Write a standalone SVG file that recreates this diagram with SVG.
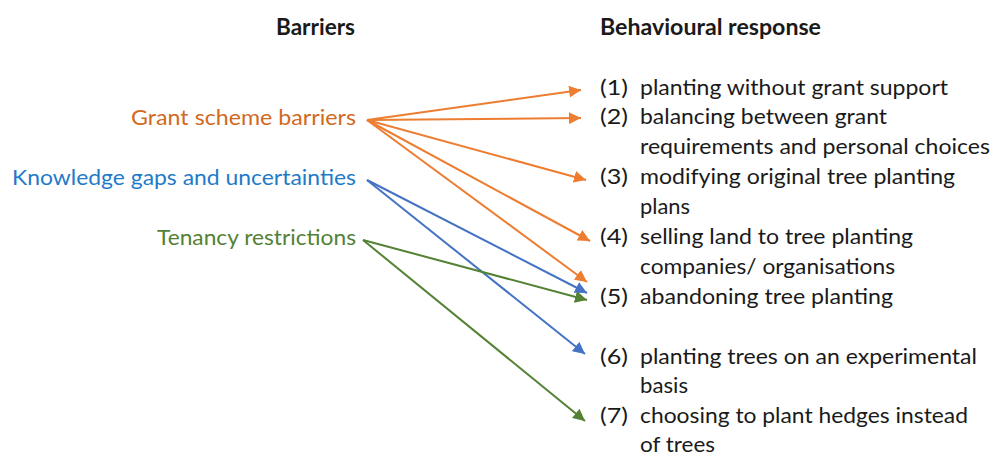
<svg xmlns="http://www.w3.org/2000/svg" width="994" height="457" viewBox="0 0 994 457">
  <style>
    text { font-family: Lato, "Open Sans", "Liberation Sans", sans-serif; font-size: 22px; fill: #1a1a1a; }
    .head { font-weight: bold; }
    .barrier { text-anchor: end; }
    .orange { fill: #D2691E; }
    .blue { fill: #1F7BC8; }
    .green { fill: #538135; }
    .edge { fill: none; stroke-width: 2; }
    .e-orange { stroke: #ED7D31; }
    .e-blue { stroke: #4472C4; }
    .e-green { stroke: #548235; }
  </style>
  <defs>
    <marker id="ah-orange" viewBox="0 0 10 10" refX="10" refY="5" markerWidth="6" markerHeight="6" markerUnits="strokeWidth" orient="auto">
      <path d="M0,0 L10,5 L0,10 Z" fill="#ED7D31"/>
    </marker>
    <marker id="ah-blue" viewBox="0 0 10 10" refX="10" refY="5" markerWidth="6" markerHeight="6" markerUnits="strokeWidth" orient="auto">
      <path d="M0,0 L10,5 L0,10 Z" fill="#4472C4"/>
    </marker>
    <marker id="ah-green" viewBox="0 0 10 10" refX="10" refY="5" markerWidth="6" markerHeight="6" markerUnits="strokeWidth" orient="auto">
      <path d="M0,0 L10,5 L0,10 Z" fill="#548235"/>
    </marker>
  </defs>

  <rect width="994" height="457" fill="#ffffff"/>

  <!-- column headings -->
  <g id="heading-barriers">
    <text class="head" x="276" y="35" textLength="79" lengthAdjust="spacingAndGlyphs">Barriers</text>
  </g>
  <g id="heading-response">
    <text class="head" x="600" y="35" textLength="221" lengthAdjust="spacingAndGlyphs">Behavioural response</text>
  </g>

  <!-- barriers -->
  <g id="barrier-grant">
    <text class="barrier orange" x="356" y="125" textLength="225" lengthAdjust="spacingAndGlyphs">Grant scheme barriers</text>
  </g>
  <g id="barrier-knowledge">
    <text class="barrier blue" x="356" y="185" textLength="344" lengthAdjust="spacingAndGlyphs">Knowledge gaps and uncertainties</text>
  </g>
  <g id="barrier-tenancy">
    <text class="barrier green" x="356" y="245" textLength="199" lengthAdjust="spacingAndGlyphs">Tenancy restrictions</text>
  </g>

  <!-- behavioural responses -->
  <g id="response-1">
    <text x="600" y="95" textLength="28" lengthAdjust="spacingAndGlyphs">(1)</text>
    <text x="640" y="95" textLength="308" lengthAdjust="spacingAndGlyphs">planting without grant support</text>
  </g>
  <g id="response-2">
    <text x="600" y="124" textLength="28" lengthAdjust="spacingAndGlyphs">(2)</text>
    <text x="640" y="124" textLength="247" lengthAdjust="spacingAndGlyphs">balancing between grant</text>
    <text x="640" y="154" textLength="350" lengthAdjust="spacingAndGlyphs">requirements and personal choices</text>
  </g>
  <g id="response-3">
    <text x="600" y="184" textLength="28" lengthAdjust="spacingAndGlyphs">(3)</text>
    <text x="640" y="184" textLength="315" lengthAdjust="spacingAndGlyphs">modifying original tree planting</text>
    <text x="640" y="214" textLength="50" lengthAdjust="spacingAndGlyphs">plans</text>
  </g>
  <g id="response-4">
    <text x="600" y="244" textLength="28" lengthAdjust="spacingAndGlyphs">(4)</text>
    <text x="640" y="244" textLength="273" lengthAdjust="spacingAndGlyphs">selling land to tree planting</text>
    <text x="640" y="274" textLength="255" lengthAdjust="spacingAndGlyphs">companies/ organisations</text>
  </g>
  <g id="response-5">
    <text x="600" y="304" textLength="28" lengthAdjust="spacingAndGlyphs">(5)</text>
    <text x="640" y="304" textLength="253" lengthAdjust="spacingAndGlyphs">abandoning tree planting</text>
  </g>
  <g id="response-6">
    <text x="600" y="364" textLength="28" lengthAdjust="spacingAndGlyphs">(6)</text>
    <text x="640" y="364" textLength="337" lengthAdjust="spacingAndGlyphs">planting trees on an experimental</text>
    <text x="640" y="393" textLength="48" lengthAdjust="spacingAndGlyphs">basis</text>
  </g>
  <g id="response-7">
    <text x="600" y="423" textLength="28" lengthAdjust="spacingAndGlyphs">(7)</text>
    <text x="640" y="423" textLength="328" lengthAdjust="spacingAndGlyphs">choosing to plant hedges instead</text>
    <text x="640" y="452" textLength="75" lengthAdjust="spacingAndGlyphs">of trees</text>
  </g>

  <!-- connectors -->
  <g id="connectors">
    <line class="edge e-orange" x1="367" y1="120" x2="581" y2="90" marker-end="url(#ah-orange)"/>
    <line class="edge e-orange" x1="367" y1="120" x2="581" y2="118" marker-end="url(#ah-orange)"/>
    <line class="edge e-orange" x1="367" y1="120" x2="586" y2="180" marker-end="url(#ah-orange)"/>
    <line class="edge e-orange" x1="367" y1="120" x2="590" y2="241" marker-end="url(#ah-orange)"/>
    <line class="edge e-orange" x1="367" y1="120" x2="587" y2="282" marker-end="url(#ah-orange)"/>
    <line class="edge e-blue" x1="367" y1="180" x2="587" y2="293" marker-end="url(#ah-blue)"/>
    <line class="edge e-blue" x1="367" y1="180" x2="585" y2="354" marker-end="url(#ah-blue)"/>
    <line class="edge e-green" x1="363" y1="240" x2="587" y2="300" marker-end="url(#ah-green)"/>
    <line class="edge e-green" x1="363" y1="240" x2="585" y2="421" marker-end="url(#ah-green)"/>
  </g>
</svg>
